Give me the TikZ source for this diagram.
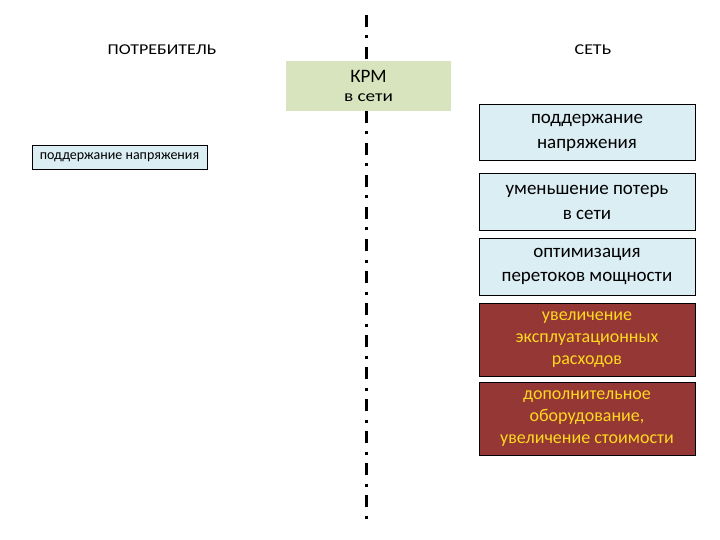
\documentclass[tikz,border=0pt]{standalone}
\usepackage{fontspec}
\setmainfont{Carlito}
\newfontfamily\widefont{Carlito}[FakeStretch=1.2]
\usetikzlibrary{positioning}

\definecolor{boxblue}{HTML}{DBEEF4}
\definecolor{krmgreen}{HTML}{D7E4BD}
\definecolor{lossred}{HTML}{953735}
\definecolor{losstext}{HTML}{FFD820}

\begin{document}
\begin{tikzpicture}[
    x=1pt, y=-1pt,
    node distance=6pt,
    header/.style={font=\widefont\fontsize{15}{16}\selectfont},
    plusbox/.style={rectangle, draw=black, line width=1pt, fill=boxblue, minimum width=216pt, minimum height=57pt, align=center, inner sep=0pt, font=\fontsize{19}{24.5}\selectfont},
    minusbox/.style={rectangle, draw=black, line width=1pt, fill=lossred, text=losstext, minimum width=216pt, minimum height=73pt, align=center, inner sep=0pt, font=\fontsize{18}{22}\selectfont},
    border/.style={line width=3pt, dash pattern=on 12pt off 8.5pt on 3pt off 8.5pt},
]
\useasboundingbox (0,0) rectangle (720,540);

% dividing line
\coordinate (ltop) at (366,15);
\coordinate (lbot) at (366,522);
\draw[border] (ltop) -- (lbot);

% headers
\node[header] (cons) at (162,50) {ПОТРЕБИТЕЛЬ};
\node[header] (net) at (593,50) {СЕТЬ};

% compensation in the grid
\node[rectangle, fill=krmgreen, minimum width=165pt, minimum height=50pt, inner sep=0pt, align=center] (krm) at (368.5,86)
    {{\fontsize{19}{20}\selectfont КРМ}\\[7pt]{\widefont\fontsize{16}{16}\selectfont в сети}};

% consumer side
\node[rectangle, draw=black, line width=0.8pt, fill=boxblue, minimum width=175pt, minimum height=24pt, inner sep=0pt, font=\fontsize{14}{16}\selectfont] (cvolt) at (119.5,157) {поддержание напряжения};

% grid side
\node[plusbox, minimum height=56pt] (volt) at (587,133) {поддержание\\напряжения};
\node[plusbox, below=12pt of volt] (loss) {уменьшение потерь\\в сети};
\node[plusbox, below=of loss] (flow) {оптимизация\\перетоков мощности};
\node[minusbox, below=7pt of flow] (cost) {увеличение\\эксплуатационных\\расходов};
\node[minusbox, below=5pt of cost] (equip) {дополнительное\\оборудование,\\увеличение стоимости};

\end{tikzpicture}
\end{document}
